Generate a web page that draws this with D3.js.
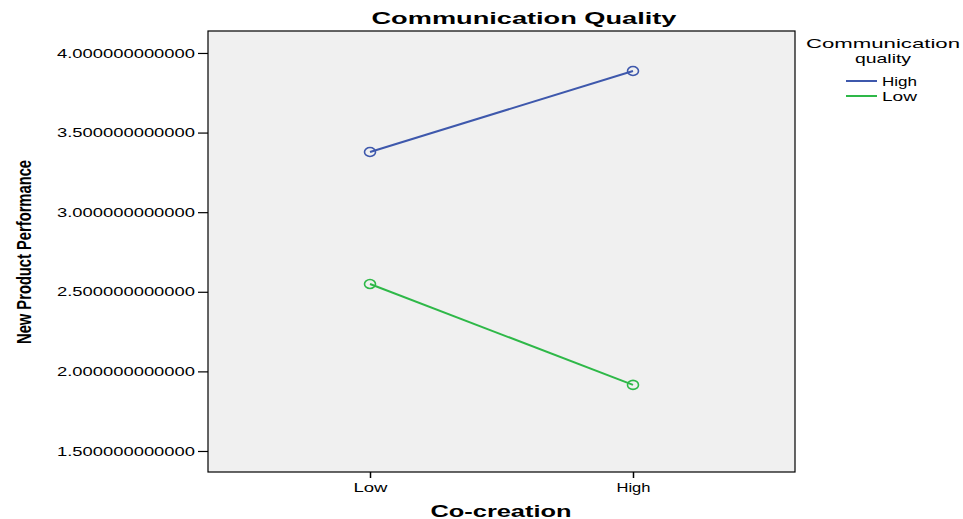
<!DOCTYPE html>
<html><head><meta charset="utf-8">
<script src="https://cdn.jsdelivr.net/npm/d3@7"></script>
<style>body{margin:0;background:#fff}svg{display:block}text{font-family:"Liberation Sans",Arial,sans-serif}</style>
</head><body>
<svg id="c" width="963" height="519"></svg>
<script>
const categories = ["Low", "High"];
const seriesNames = ["High", "Low"];
const seriesHigh = [3.378, 3.887];
const seriesLow = [2.549, 1.915];
const yTicks = [1.5, 2.0, 2.5, 3.0, 3.5, 4.0];
const colors = ["#3e58ac", "#2eb848"];

const svg = d3.select("#c");
const L = 208, R = 795, T = 31, B = 472;
const x = d3.scalePoint().domain(categories).range([L, R]).padding(0.616);
const y = d3.scaleLinear().domain([1.368, 4.138]).range([B, T]);

svg.append("rect").attr("x", L).attr("y", T).attr("width", R - L).attr("height", B - T)
  .attr("fill", "#f0f0f0").attr("stroke", "#000").attr("stroke-width", 1.2);

// y axis
const ya = svg.append("g").attr("transform", `translate(${L},0)`)
  .call(d3.axisLeft(y).tickValues(yTicks).tickSize(10).tickFormat(d => d.toFixed(12)));
ya.select(".domain").remove();
ya.selectAll(".tick line").attr("stroke", "#000").attr("stroke-width", 1.2);
ya.selectAll(".tick text").attr("x", -13).attr("font-size", 13).attr("fill", "#000")
  .attr("font-family", "Liberation Sans, Arial, sans-serif")
  .attr("textLength", 138).attr("lengthAdjust", "spacingAndGlyphs");

// x axis
const xa = svg.append("g").attr("transform", `translate(0,${B})`)
  .call(d3.axisBottom(x).tickSize(6));
xa.select(".domain").remove();
xa.selectAll(".tick line").attr("stroke", "#000").attr("stroke-width", 1.5);
xa.selectAll(".tick text").attr("y", 11).attr("font-size", 13).attr("fill", "#000")
  .attr("font-family", "Liberation Sans, Arial, sans-serif")
  .attr("textLength", 34).attr("lengthAdjust", "spacingAndGlyphs");

// lines
const series = [seriesHigh, seriesLow];
const line = d3.line().x((d, i) => x(categories[i])).y(d => y(d));
series.forEach((s, k) => {
  svg.append("path").attr("d", line(s)).attr("fill", "none")
    .attr("stroke", colors[k]).attr("stroke-width", 2);
  svg.selectAll(null).data(s).enter().append("ellipse")
    .attr("cx", (d, i) => x(categories[i])).attr("cy", d => y(d))
    .attr("rx", 5.5).attr("ry", 4.5)
    .attr("fill", "none").attr("stroke", colors[k]).attr("stroke-width", 1.6);
});

// title
svg.append("text").attr("x", 524).attr("y", 24).attr("text-anchor", "middle")
  .attr("font-size", 16).attr("font-weight", "bold")
  .attr("textLength", 305).attr("lengthAdjust", "spacingAndGlyphs")
  .text("Communication Quality");

// x title
svg.append("text").attr("x", 501).attr("y", 517).attr("text-anchor", "middle")
  .attr("font-size", 16).attr("font-weight", "bold")
  .attr("textLength", 141).attr("lengthAdjust", "spacingAndGlyphs")
  .text("Co-creation");

// y title
svg.append("text").attr("transform", "translate(31,252) rotate(-90)")
  .attr("text-anchor", "middle").attr("font-size", 21).attr("font-weight", "bold")
  .attr("textLength", 184).attr("lengthAdjust", "spacingAndGlyphs")
  .text("New Product Performance");

// legend
svg.append("text").attr("x", 883).attr("y", 48).attr("text-anchor", "middle")
  .attr("font-size", 13).attr("textLength", 154).attr("lengthAdjust", "spacingAndGlyphs")
  .text("Communication");
svg.append("text").attr("x", 883).attr("y", 63).attr("text-anchor", "middle")
  .attr("font-size", 13).attr("textLength", 56).attr("lengthAdjust", "spacingAndGlyphs")
  .text("quality");
seriesNames.forEach((n, k) => {
  const ly = 81 + k * 15;
  svg.append("line").attr("x1", 846).attr("x2", 877).attr("y1", ly).attr("y2", ly)
    .attr("stroke", colors[k]).attr("stroke-width", 2);
  svg.append("text").attr("x", 882).attr("y", ly + 5).attr("font-size", 13)
    .attr("textLength", 35).attr("lengthAdjust", "spacingAndGlyphs").text(n);
});
</script>
</body></html>
